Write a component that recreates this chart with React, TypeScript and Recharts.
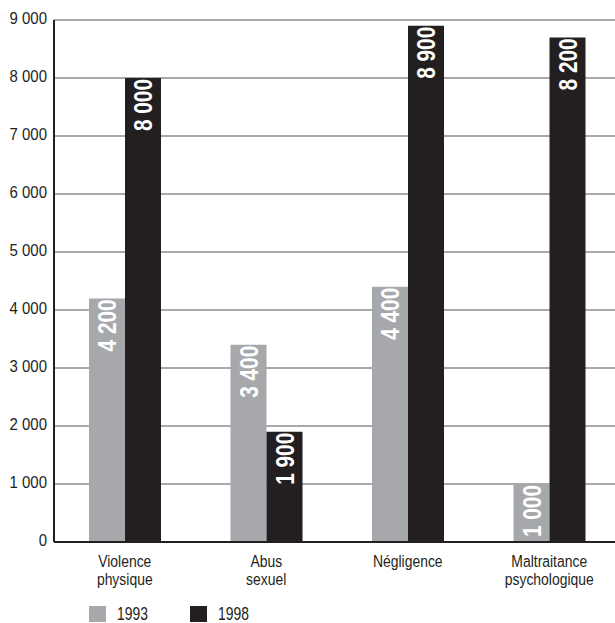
import { BarChart, Bar, XAxis, YAxis, CartesianGrid, LabelList } from "recharts";

const categories = ["Violence\nphysique", "Abus\nsexuel", "Négligence", "Maltraitance\npsychologique"];
const values1993 = [4200, 3400, 4400, 1000];
const values1998 = [8000, 1900, 8900, 8700];
// printed labels (last 1998 label differs from the drawn bar height in the source)
const labels1993 = ["4 200", "3 400", "4 400", "1 000"];
const labels1998 = ["8 000", "1 900", "8 900", "8 200"];
const yTicks = [0, 1000, 2000, 3000, 4000, 5000, 6000, 7000, 8000, 9000];

const series = [
  { key: "y1993", name: "1993", color: "#a7a8ab", labels: labels1993 },
  { key: "y1998", name: "1998", color: "#231f20", labels: labels1998 },
];

const data = categories.map((c, i) => ({
  category: c,
  y1993: values1993[i],
  y1998: values1998[i],
}));

const FONT = '"Liberation Sans", Arial, sans-serif';
const INK = "#231f20";

const fmt = (v: number) => String(v).replace(/\B(?=(\d{3})+(?!\d))/g, " ");

// condensed look: squeeze a regular sans horizontally
const YTick = (props: any) => {
  const { x, y, payload } = props;
  return (
    <g transform={`translate(${x + 1},${y}) scale(0.87,1)`}>
      <text x={0} y={0} dy={4} textAnchor="end" fill={INK} fontSize={17.2} fontFamily={FONT}>
        {fmt(payload.value)}
      </text>
    </g>
  );
};

const CategoryTick = (props: any) => {
  const { x, y, payload } = props;
  const lines = String(payload.value).split("\n");
  return (
    <g transform={`translate(${x},${y}) scale(0.82,1)`}>
      <text x={0} y={17} textAnchor="middle" fill={INK} fontSize={17} fontFamily={FONT}>
        {lines.map((l, i) => (
          <tspan key={i} x={0} dy={i === 0 ? 0 : 17.6}>
            {l}
          </tspan>
        ))}
      </text>
    </g>
  );
};

const makeBarLabel = (labels: string[]) => (props: any) => {
  const { x, y, width, index } = props;
  const cx = x + width / 2;
  const ty = y + 1;
  return (
    <g transform={`translate(${cx},${ty}) rotate(-90) scale(0.8,1)`}>
      <text x={0} y={0} dy={9} textAnchor="end" fill="#ffffff" fontSize={26} fontWeight="bold" fontFamily={FONT}>
        {labels[index]}
      </text>
    </g>
  );
};

export default function App() {
  return (
    <div style={{ position: "absolute", left: 0, top: 0, width: 615, height: 623, overflow: "hidden", background: "#fff" }}>
      <BarChart
        width={620}
        height={600}
        data={data}
        margin={{ top: 20, right: 0, left: 0, bottom: 0 }}
        barGap={0}
        barSize={36}
      >
        <CartesianGrid vertical={false} stroke="#555" strokeWidth={1.2} />
        <XAxis
          dataKey="category"
          height={58}
          tick={<CategoryTick />}
          tickLine={false}
          axisLine={{ stroke: INK, strokeWidth: 2 }}
          interval={0}
        />
        <YAxis
          width={54}
          domain={[0, 9000]}
          ticks={yTicks}
          tick={<YTick />}
          tickLine={false}
          axisLine={{ stroke: INK, strokeWidth: 2 }}
          interval={0}
        />
        {series.map((s) => (
          <Bar key={s.key} dataKey={s.key} name={s.name} fill={s.color} isAnimationActive={false}>
            <LabelList dataKey={s.key} content={makeBarLabel(s.labels)} />
          </Bar>
        ))}
      </BarChart>
      <div style={{ position: "absolute", left: 89, top: 606, display: "flex", fontFamily: FONT, fontSize: 19, lineHeight: "16px", color: INK }}>
        {series.map((s) => (
          <div key={s.key} style={{ display: "flex", alignItems: "center", width: 101 }}>
            <span style={{ display: "inline-block", width: 17, height: 16, background: s.color, marginRight: 11 }} />
            <span style={{ display: "inline-block", transform: "scaleX(0.73)", transformOrigin: "left center" }}>{s.name}</span>
          </div>
        ))}
      </div>
    </div>
  );
}
